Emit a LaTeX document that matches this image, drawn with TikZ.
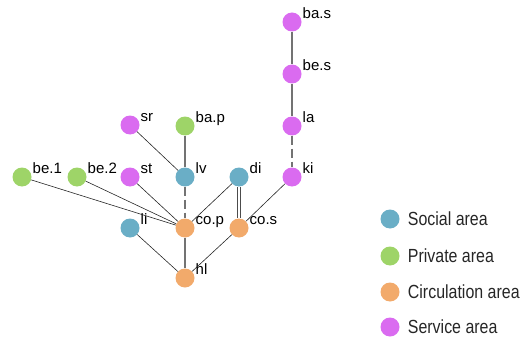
\documentclass[tikz,border=0pt]{standalone}
\usepackage{fontspec}
\setmainfont{Liberation Sans}
\usepackage{xcolor}
\usepackage{graphicx}
\usepackage{tikz}
\usetikzlibrary{shapes.geometric, arrows}
\definecolor{socialc}{HTML}{6AAEC6}
\definecolor{privatec}{HTML}{9ED468}
\definecolor{circc}{HTML}{F2AA6B}
\definecolor{servicec}{HTML}{DA6BF0}
\tikzstyle{room} = [circle, minimum size=19pt, inner sep=0pt, draw=none]
\tikzstyle{social} = [room, fill=socialc]
\tikzstyle{private} = [room, fill=privatec]
\tikzstyle{circulation} = [room, fill=circc]
\tikzstyle{service} = [room, fill=servicec]
\tikzstyle{lbl} = [anchor=base west, inner sep=0pt, label distance=1.5pt, font=\fontsize{15}{15}\selectfont]
\tikzstyle{legtxt} = [anchor=west, inner sep=0pt, label distance=8pt, text=black!85, font=\fontsize{19}{19}\selectfont]
\tikzstyle{link} = [black!85, line width=0.6pt]
\tikzstyle{open} = [black!55, line width=1.4pt]
\tikzstyle{door} = [black!55, line width=1.4pt, dashed, dash pattern=on 9pt off 4pt]
\tikzstyle{wall} = [black!70, line width=0.8pt, double=white, double distance=2pt]
\newcommand{\legtext}[1]{\scalebox{0.84}[1]{#1}}

\begin{document}
\begin{tikzpicture}[x=1pt, y=-1pt]
	\useasboundingbox (0,0) rectangle (532,342);
	
	% service wing
	\node (bas) [service] at (292,22) [label={[lbl]20:ba.s}] {};
	\node (bes) [service] at (292,74) [label={[lbl]20:be.s}] {};
	\node (la) [service] at (292,126) [label={[lbl]20:la}] {};
	\node (ki) [service] at (292,177) [label={[lbl]20:ki}] {};
	
	% private / social rooms
	\node (sr) [service] at (130,125) [label={[lbl]20:sr}] {};
	\node (bap) [private] at (185,126) [label={[lbl]20:ba.p}] {};
	\node (be1) [private] at (22,177) [label={[lbl]20:be.1}] {};
	\node (be2) [private] at (77,177) [label={[lbl]20:be.2}] {};
	\node (st) [service] at (130,177) [label={[lbl]20:st}] {};
	\node (lv) [social] at (185,177) [label={[lbl]20:lv}] {};
	\node (di) [social] at (239,177) [label={[lbl]20:di}] {};
	\node (li) [social] at (130,228) [label={[lbl]20:li}] {};
	
	% circulation
	\node (cop) [circulation] at (185,228) [label={[lbl]20:co.p}] {};
	\node (cos) [circulation] at (239,228) [label={[lbl]20:co.s}] {};
	\node (hl) [circulation] at (185,278) [label={[lbl]20:hl}] {};
	
	\draw [open] (bas) -- (bes);
	\draw [open] (bes) -- (la);
	\draw [door] (la) -- (ki);
	\draw [open] (bap) -- (lv);
	\draw [door] (lv) -- (cop);
	\draw [open] (cop) -- (hl);
	\draw [wall] (di) -- (cos);
	
	\draw [link] (sr) -- (lv);
	\draw [link] (be1) -- (cop);
	\draw [link] (be2) -- (cop);
	\draw [link] (st) -- (cop);
	\draw [link] (di) -- (cop);
	\draw [link] (ki) -- (cos);
	\draw [link] (li) -- (hl);
	\draw [link] (cos) -- (hl);
	
	% legend
	\node (leg1) [social] at (390,219) [label={[legtxt]0:\legtext{Social area}}] {};
	\node (leg2) [private] at (390,256) [label={[legtxt]0:\legtext{Private area}}] {};
	\node (leg3) [circulation] at (390,292) [label={[legtxt]0:\legtext{Circulation area}}] {};
	\node (leg4) [service] at (390,327) [label={[legtxt]0:\legtext{Service area}}] {};
	
\end{tikzpicture}
\end{document}
